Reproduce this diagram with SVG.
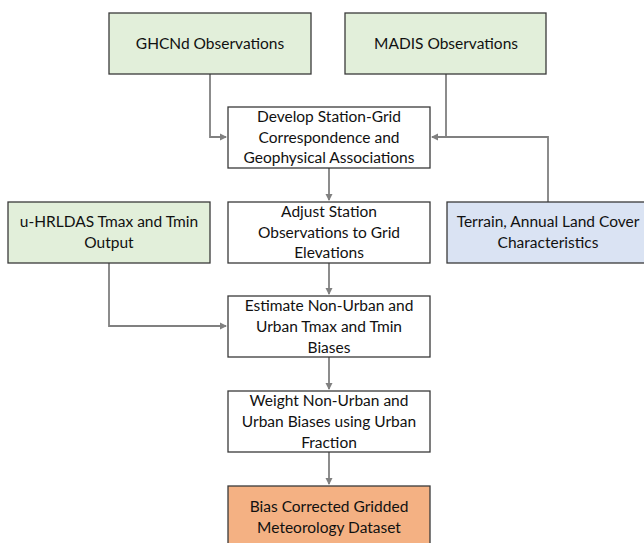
<svg xmlns="http://www.w3.org/2000/svg" width="644" height="543" viewBox="0 0 644 543">
<style>
.box{stroke:#3a3a3a;stroke-width:1.3}
.w{fill:#ffffff}.g{fill:#e2efda}.b{fill:#dae3f3}.o{fill:#f4b183}
text{font-family:Lato,"Liberation Sans",sans-serif;font-size:15.5px;fill:#111111;text-anchor:middle;dominant-baseline:middle}
.c{fill:none;stroke:#808080;stroke-width:1.8}
</style>
<defs>
<marker id="ah" markerWidth="8" markerHeight="8" refX="6" refY="4" orient="auto" markerUnits="userSpaceOnUse">
<path d="M0,0.5 L7,4 L0,7.5 Z" fill="#808080"/>
</marker>
</defs>
<rect width="644" height="543" fill="#ffffff"/>
<g id="connectors">
<path class="c" d="M210,74 V137 H226" marker-end="url(#ah)"/>
<path class="c" d="M446,74 V137 H432" marker-end="url(#ah)"/>
<path class="c" d="M548,202 V137 H446"/>
<path class="c" d="M329,168 V200" marker-end="url(#ah)"/>
<path class="c" d="M329,263 V294" marker-end="url(#ah)"/>
<path class="c" d="M109,263 V326 H226" marker-end="url(#ah)"/>
<path class="c" d="M329,357 V389" marker-end="url(#ah)"/>
<path class="c" d="M329,452 V484" marker-end="url(#ah)"/>
</g>
<g id="ghcnd"><rect class="box g" x="109" y="13" width="202" height="61"/><text x="210" y="45">GHCNd Observations</text></g>
<g id="madis"><rect class="box g" x="345" y="13" width="201" height="61"/><text x="446" y="45">MADIS Observations</text></g>
<g id="develop"><rect class="box w" x="228" y="107" width="202" height="61"/><text x="329" y="118">Develop Station-Grid</text><text x="329" y="139">Correspondence and</text><text x="329" y="159">Geophysical Associations</text></g>
<g id="uhrldas"><rect class="box g" x="8" y="202" width="202" height="61"/><text x="109" y="223">u-HRLDAS Tmax and Tmin</text><text x="109" y="244">Output</text></g>
<g id="adjust"><rect class="box w" x="228" y="202" width="202" height="61"/><text x="329" y="213">Adjust Station</text><text x="329" y="234">Observations to Grid</text><text x="329" y="254">Elevations</text></g>
<g id="terrain"><rect class="box b" x="447" y="202" width="202" height="61"/><text x="548" y="223">Terrain, Annual Land Cover</text><text x="548" y="244">Characteristics</text></g>
<g id="estimate"><rect class="box w" x="228" y="296" width="202" height="61"/><text x="329" y="307">Estimate Non-Urban and</text><text x="329" y="328">Urban Tmax and Tmin</text><text x="329" y="349">Biases</text></g>
<g id="weight"><rect class="box w" x="228" y="391" width="202" height="61"/><text x="329" y="402">Weight Non-Urban and</text><text x="329" y="423">Urban Biases using Urban</text><text x="329" y="444">Fraction</text></g>
<g id="output"><rect class="box o" x="228" y="486" width="202" height="70"/><text x="329" y="508">Bias Corrected Gridded</text><text x="329" y="529">Meteorology Dataset</text></g>
</svg>
